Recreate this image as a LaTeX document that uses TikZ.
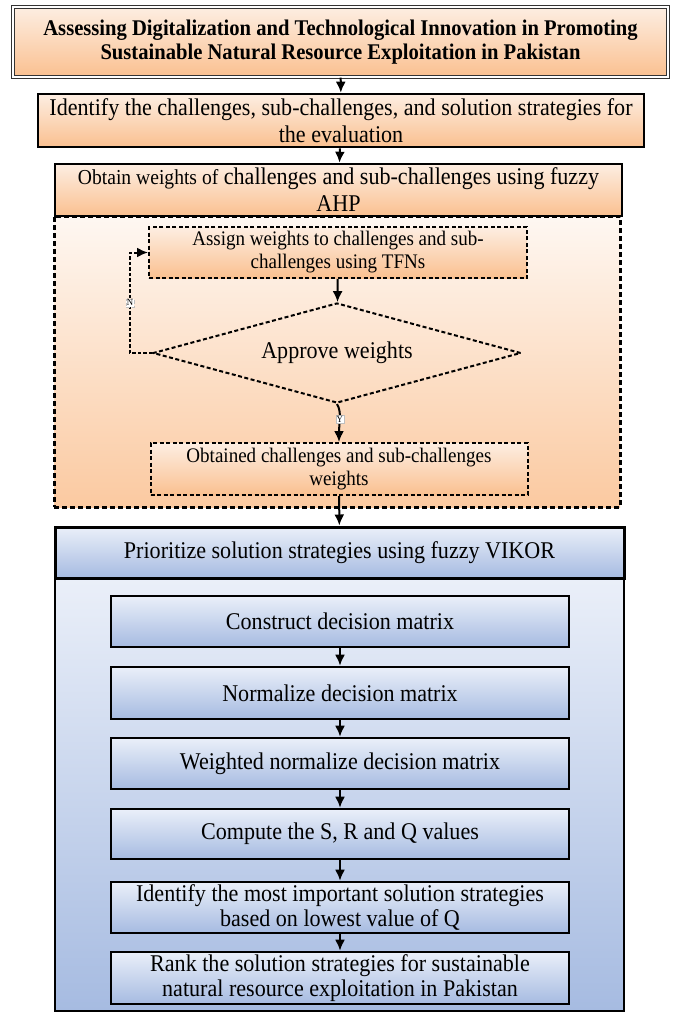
\documentclass[tikz,border=0pt]{standalone}
\usepackage{fontspec}
\setmainfont[FakeStretch=0.92]{Liberation Serif}
\usetikzlibrary{shapes.geometric,arrows.meta}
\definecolor{peachtop}{RGB}{253,238,226}
\definecolor{peachbot}{RGB}{250,192,144}
\definecolor{bluetop}{RGB}{234,239,249}
\definecolor{bluebot}{RGB}{166,187,225}

\begin{document}
\begin{tikzpicture}[x=1pt,y=-1pt,>={Latex[length=11pt,width=10pt]},
		orangebox/.style={draw, line width=2.6pt, top color=peachtop, bottom color=peachbot, align=center, inner sep=1pt, font=\fontsize{24}{27}\selectfont},
		dashbox/.style={orangebox, line width=2pt, dash pattern=on 4pt off 2.5pt, font=\fontsize{20.7}{23}\selectfont},
		bluebox/.style={draw, line width=2.6pt, top color=bluetop, bottom color=bluebot, align=center, inner sep=1pt, minimum width=458pt, font=\fontsize{24}{25.5}\selectfont},
		yesno/.style={fill=white, draw=black!25, line width=0.3pt, inner sep=0.8pt, font=\fontsize{9.5}{10}\selectfont}]
		\useasboundingbox (0,0) rectangle (674,1012);
		\node[draw, dash pattern=on 5pt off 3pt, line width=3pt, top color=peachtop!45, bottom color=peachbot!85, minimum width=566pt, minimum height=291pt] (ahp) at (337,361.5) {};
		\node[draw, line width=1.8pt, top color=bluetop!60, bottom color=bluebot, minimum width=569pt, minimum height=484pt] (vikor) at (339.5,769) {};
		\node[orangebox, double, double distance=2pt, line width=1.3pt, draw=black!80, minimum width=655pt, minimum height=70pt, font=\bfseries\fontsize{22.4}{24}\selectfont] (title) at (340.5,42) {Assessing Digitalization and Technological Innovation in Promoting\\Sustainable Natural Resource Exploitation in Pakistan};
		\node[orangebox, minimum width=606pt, minimum height=53pt] (identify) at (341,120.5) {Identify the challenges, sub-challenges, and solution strategies for\\the evaluation};
		\node[orangebox, minimum width=567pt, minimum height=52pt] (obtain) at (338.5,190) {{\fontsize{21.3}{27}\selectfont Obtain weights of} challenges and sub-challenges using fuzzy\\AHP};
		\node[dashbox, minimum width=378pt, minimum height=51pt] (assign) at (338,252.5) {Assign weights to challenges and sub-\\challenges using TFNs};
		\node[diamond, aspect=3.68, draw, line width=2pt, dash pattern=on 4pt off 2.5pt, inner sep=0pt, minimum width=368pt, minimum height=100pt, font=\fontsize{24}{26}\selectfont] (approve) at (337,353) {Approve weights};
		\node[dashbox, minimum width=377pt, minimum height=52pt] (obtained) at (339,469) {Obtained challenges and sub-challenges\\weights};
		\node[bluebox, line width=3pt, minimum width=569pt, minimum height=51pt] (vikorhead) at (339.5,552.5) {Prioritize solution strategies using fuzzy VIKOR};
		\node[bluebox, minimum height=51pt] (construct) at (340,621.5) {Construct decision matrix};
		\node[bluebox, minimum height=52pt] (normalize) at (340,693) {Normalize decision matrix};
		\node[bluebox, minimum height=51pt] (weighted) at (340,763.5) {Weighted normalize decision matrix};
		\node[bluebox, minimum height=50pt] (compute) at (340,834) {Compute the S, R and Q values};
		\node[bluebox, minimum height=51pt] (lowest) at (340,907.5) {Identify the most important solution strategies\\based on lowest value of Q};
		\node[bluebox, minimum height=52pt] (rank) at (340,978) {Rank the solution strategies for sustainable\\natural resource exploitation in Pakistan};
		\draw[->, line width=2pt] (title) -- (identify);
		\draw[->, line width=2pt] (identify) -- (obtain);
		\draw[->, line width=2pt] (assign) -- (approve);
		\draw[->, line width=2pt, dash pattern=on 3.5pt off 2pt] (approve.west) -- ++(-22,0) |- node[pos=0.25, yesno] {N} (assign.west);
		\draw[->, line width=2pt] (approve.south) .. controls +(5,8) and +(0,-18) .. node[pos=0.5, yesno] {Y} (obtained.north);
		\draw[->, line width=2pt] (obtained) -- (vikorhead);
		\draw[->, line width=2pt] (construct) -- (normalize);
		\draw[->, line width=2pt] (normalize) -- (weighted);
		\draw[->, line width=2pt] (weighted) -- (compute);
		\draw[->, line width=2pt] (compute) -- (lowest);
		\draw[->, line width=2pt] (lowest) -- (rank);
	\end{tikzpicture}
\end{document}
